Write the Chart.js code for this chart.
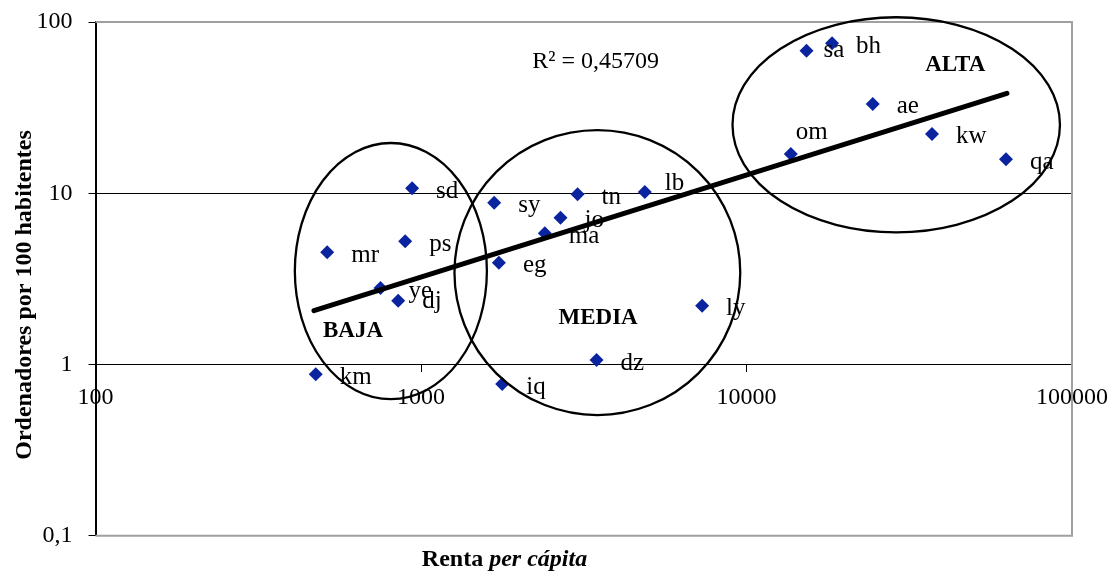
<!DOCTYPE html>
<html>
<head>
<meta charset="utf-8">
<script src="https://cdn.jsdelivr.net/npm/chart.js@4.4.1/dist/chart.umd.min.js"></script>
<style>
  html, body { margin: 0; background: #fff; }
  #wrap { width: 1111px; height: 571px; }
</style>
</head>
<body>
<div id="wrap"><canvas id="grafico" width="1111" height="571"></canvas></div>
<script>
// datos (escala log-log)
const paises = ['km','mr','ye','dj','ps','sd','sy','eg','iq','ma','jo','tn','dz','lb','ly','om','sa','bh','ae','kw','qa'];
const renta = [475, 515, 751, 851, 894, 939, 1678, 1735, 1776, 2401, 2683, 3027, 3462, 4870, 7305, 13680, 15289, 18320, 24430, 37150, 62700];
const ordenadores = [0.876, 4.52, 2.795, 2.356, 5.24, 10.68, 8.80, 3.93, 0.768, 5.83, 7.19, 9.85, 1.061, 10.16, 2.20, 16.94, 68.0, 75.1, 33.2, 22.2, 15.78];

// linea de tendencia (potencial) - extremos
const tendRenta = [469, 63100];
const tendOrd = [2.06, 38.3];

const xTicks = [100, 1000, 10000, 100000];
const xTickLabels = ['100', '1000', '10000', '100000'];
const yTicks = [0.1, 1, 10, 100];
const yTickLabels = ['0,1', '1', '10', '100'];

// grupos: elipses en coordenadas de datos (radios en decadas)
const grupos = ['BAJA', 'MEDIA', 'ALTA'];
const grupoRenta = [808, 3482, 28840];
const grupoOrd = [3.51, 3.44, 25.1];
const grupoRadioX = [0.295, 0.439, 0.503];
const grupoRadioY = [0.748, 0.832, 0.628];
const grupoTxtRenta = [618, 3500, 43780];
const grupoTxtOrd = [1.44, 1.715, 51.9];

const r2Texto = 'R² = 0,45709';
const r2Renta = 3440, r2Ord = 53.6;

const serif = '"Liberation Serif", "Times New Roman", serif';
const azul = '#0a24a0';
// etiquetas desplazadas a mano en el original
const ajusteEtiqueta = { lb: [-4, -11.5], om: [-19, -25], sa: [-7, -3], ye: [4, 0], dj: [0, -2] };

const decor = {
  id: 'decor',
  beforeDatasetsDraw(chart) {
    const { ctx, chartArea: a } = chart;
    ctx.save();
    ctx.strokeStyle = '#a0a0a0'; ctx.lineWidth = 2;
    ctx.beginPath();
    ctx.moveTo(a.left, a.top); ctx.lineTo(a.right, a.top);
    ctx.lineTo(a.right, a.bottom); ctx.lineTo(a.left, a.bottom);
    ctx.stroke();
    ctx.restore();
  },
  afterDatasetsDraw(chart) {
    const { ctx, scales: { x, y } } = chart;
    ctx.save();
    // etiquetas de paises
    const meta = chart.getDatasetMeta(0);
    ctx.fillStyle = '#000';
    ctx.font = '25px ' + serif;
    ctx.textAlign = 'left'; ctx.textBaseline = 'alphabetic';
    meta.data.forEach((p, i) => {
      const aj = ajusteEtiqueta[paises[i]] || [0, 0];
      ctx.fillText(paises[i], p.x + 24 + aj[0], p.y + 9.5 + aj[1]);
    });
    // elipses
    ctx.strokeStyle = '#000'; ctx.lineWidth = 2.3;
    grupos.forEach((g, i) => {
      const cx = x.getPixelForValue(grupoRenta[i]);
      const cy = y.getPixelForValue(grupoOrd[i]);
      const rx = x.getPixelForValue(grupoRenta[i] * Math.pow(10, grupoRadioX[i])) - cx;
      const ry = cy - y.getPixelForValue(grupoOrd[i] * Math.pow(10, grupoRadioY[i]));
      ctx.beginPath(); ctx.ellipse(cx, cy, rx, ry, 0, 0, Math.PI * 2); ctx.stroke();
      ctx.font = 'bold 23px ' + serif; ctx.textAlign = 'center';
      ctx.fillText(g, x.getPixelForValue(grupoTxtRenta[i]), y.getPixelForValue(grupoTxtOrd[i]));
    });
    // R2
    ctx.font = '24px ' + serif; ctx.textAlign = 'center';
    ctx.fillText(r2Texto, x.getPixelForValue(r2Renta), y.getPixelForValue(r2Ord));
    ctx.restore();
  },
  afterDraw(chart) {
    const { ctx } = chart;
    ctx.save();
    ctx.fillStyle = '#000';
    // titulo eje Y
    ctx.translate(25, 295); ctx.rotate(-Math.PI / 2);
    ctx.font = 'bold 24px ' + serif; ctx.textAlign = 'center'; ctx.textBaseline = 'middle';
    ctx.fillText('Ordenadores por 100 habitentes', 0, 0);
    ctx.setTransform(1, 0, 0, 1, 0, 0);
    // titulo eje X (negrita + cursiva)
    const a = 'Renta ', b = 'per cápita';
    ctx.textBaseline = 'alphabetic'; ctx.textAlign = 'left';
    ctx.font = 'bold 24px ' + serif; const wa = ctx.measureText(a).width;
    ctx.font = 'italic bold 24px ' + serif; const wb = ctx.measureText(b).width;
    const x0 = 504.5 - (wa + wb) / 2;
    ctx.font = 'bold 24px ' + serif; ctx.fillText(a, x0, 566);
    ctx.font = 'italic bold 24px ' + serif; ctx.fillText(b, x0 + wa, 566);
    ctx.restore();
  }
};

new Chart(document.getElementById('grafico'), {
  type: 'scatter',
  data: {
    datasets: [
      {
        label: 'Ordenadores',
        data: renta.map((r, i) => ({ x: r, y: ordenadores[i] })),
        pointStyle: 'rectRot', pointRadius: 7, pointHoverRadius: 7,
        backgroundColor: azul, borderColor: azul, borderWidth: 0, order: 2
      },
      {
        label: 'Tendencia',
        data: tendRenta.map((r, i) => ({ x: r, y: tendOrd[i] })),
        showLine: true, borderColor: '#000', borderWidth: 5, borderCapStyle: 'round',
        pointRadius: 0, order: 1
      }
    ]
  },
  options: {
    responsive: false, animation: false, devicePixelRatio: 1,
    layout: { padding: { top: 22, right: 39, bottom: 35.3, left: 0 } },
    plugins: { legend: { display: false }, tooltip: { enabled: false } },
    scales: {
      x: {
        type: 'logarithmic', min: 100, max: 100000, position: { y: 1 },
        afterBuildTicks: s => { s.ticks = xTicks.map(v => ({ value: v })); },
        afterFit: s => { s.paddingLeft = 0; s.paddingRight = 0; },
        ticks: { callback: (v, i) => xTickLabels[i], color: '#000', font: { family: serif, size: 24 }, padding: 12, maxRotation: 0, autoSkip: false },
        grid: { drawOnChartArea: false, drawTicks: true, tickLength: 7, color: '#000', lineWidth: 1 },
        border: { display: true, color: '#000', width: 1 }
      },
      y: {
        type: 'logarithmic', min: 0.1, max: 100, position: 'left',
        afterBuildTicks: s => { s.ticks = yTicks.map(v => ({ value: v })); },
        afterFit: s => { s.width = 95.5; s.paddingTop = 0; s.paddingBottom = 0; },
        ticks: { callback: (v, i) => yTickLabels[i], color: '#000', font: { family: serif, size: 24 }, padding: 16, autoSkip: false },
        grid: {
          color: c => (c.tick && (c.tick.value === 1 || c.tick.value === 10)) ? '#000' : 'rgba(0,0,0,0)',
          tickColor: '#000', tickLength: 7, lineWidth: 1
        },
        border: { display: true, color: '#000', width: 2 }
      }
    }
  },
  plugins: [decor]
});
</script>
</body>
</html>
